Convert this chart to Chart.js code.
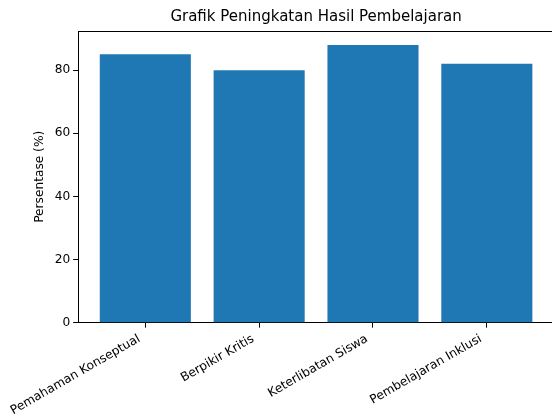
<!DOCTYPE html>
<html>
<head>
<meta charset="utf-8">
<script src="https://cdn.jsdelivr.net/npm/chart.js@4.4.0/dist/chart.umd.min.js"></script>
<style>
  html, body { margin: 0; padding: 0; background: #fff; overflow: hidden; }
  #wrap { position: absolute; left: 0; top: 0; width: 554px; height: 422px; }
</style>
</head>
<body>
<div id="wrap"><canvas id="c" width="554" height="422"></canvas></div>
<script>
const categories = ["Pemahaman Konseptual", "Berpikir Kritis", "Keterlibatan Siswa", "Pembelajaran Inklusi"];
const values = [85, 80, 88, 82];
const yTicks = [0, 20, 40, 60, 80];
const titleText = "Grafik Peningkatan Hasil Pembelajaran";
const yLabel = "Persentase (%)";

const FONT = "'DejaVu Sans', sans-serif";
const barColor = "#1f77b4";

const points = values.map((v, i) => ({ x: i, y: v }));
const yMax = Math.max(...values) * 1.05;
const n = categories.length;

new Chart(document.getElementById("c"), {
  type: "bar",
  data: {
    datasets: [{
      data: points,
      backgroundColor: barColor,
      borderWidth: 0,
      barPercentage: 0.8,
      categoryPercentage: 1.0
    }]
  },
  options: {
    responsive: false,
    animation: false,
    events: [],
    layout: { padding: { left: 33, right: 0, top: 8, bottom: 0 } },
    plugins: {
      legend: { display: false },
      tooltip: { enabled: false },
      title: { display: false }
    },
    scales: {
      x: {
        type: "linear",
        offset: false,
        min: -0.59,
        max: (n - 1) + 0.59,
        afterBuildTicks: (axis) => { axis.ticks = categories.map((_, i) => ({ value: i })); },
        ticks: {
          autoSkip: false,
          minRotation: 30,
          maxRotation: 30,
          color: "#000",
          font: { family: FONT, size: 12.2 },
          padding: 4,
          labelOffset: -6,
          callback: (v) => categories[v]
        },
        grid: { display: true, offset: false, drawOnChartArea: false, drawTicks: true, tickLength: 5, tickColor: "#000" },
        border: { display: true, color: "#000", width: 1 }
      },
      xTop: {
        type: "linear",
        position: "top",
        offset: false,
        min: -0.59,
        max: (n - 1) + 0.59,
        ticks: { display: false },
        grid: { display: false, drawTicks: false },
        border: { display: true, color: "#000", width: 1 },
        title: {
          display: true,
          text: titleText,
          color: "#000",
          font: { family: FONT, size: 15, weight: "normal" },
          padding: { top: 0, bottom: 5 }
        }
      },
      y: {
        min: 0,
        max: yMax,
        afterBuildTicks: (axis) => { axis.ticks = yTicks.map(v => ({ value: v })); },
        ticks: {
          color: "#000",
          font: { family: FONT, size: 12.2 },
          padding: 3
        },
        grid: { display: true, drawOnChartArea: false, drawTicks: true, tickLength: 5, tickColor: "#000" },
        border: { display: true, color: "#000", width: 1 },
        title: {
          display: true,
          text: yLabel,
          color: "#000",
          font: { family: FONT, size: 12.2 },
          padding: { top: 0, bottom: 4 }
        }
      }
    }
  }
});
</script>
</body>
</html>
